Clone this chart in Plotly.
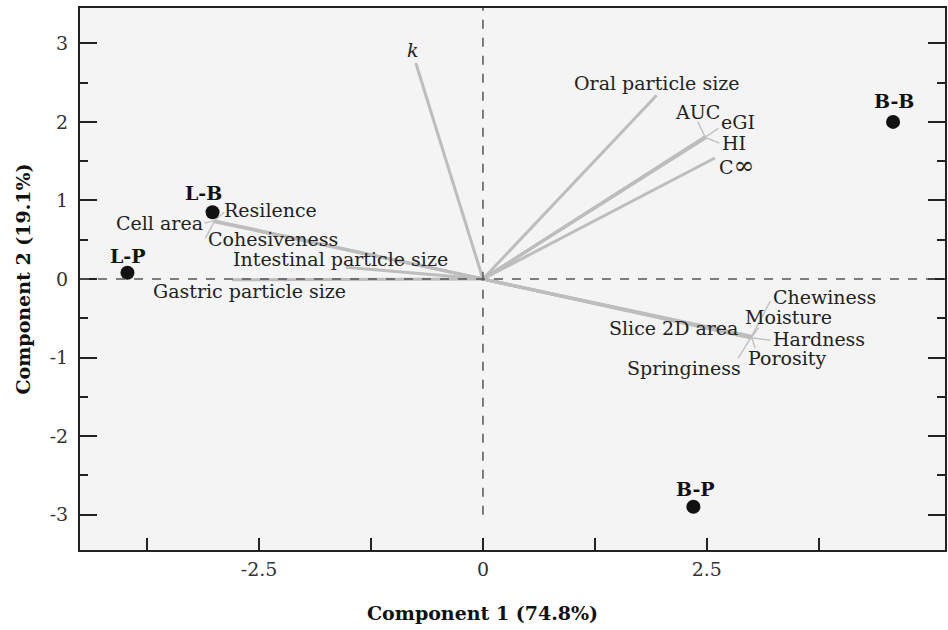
import plotly.graph_objects as go

# ---- sample scores ----
samples = ["L-P", "L-B", "B-B", "B-P"]
score_pc1 = [-3.97, -3.02, 4.58, 2.35]
score_pc2 = [0.08, 0.85, 2.00, -2.90]
sample_label_x = [-3.96, -3.12, 4.59, 2.37]
sample_label_y = [0.29, 1.10, 2.27, -2.67]

# ---- variable loadings ----
variables = ["<i>k</i>", "Oral particle size", "AUC", "eGI", "HI",
             "C<span style='font-size:25px'>∞</span>",
             "Cell area", "Resilence", "Cohesiveness",
             "Intestinal particle size", "Gastric particle size",
             "Slice 2D area", "Chewiness", "Moisture", "Hardness",
             "Porosity", "Springiness"]
loading_pc1 = [-0.75, 1.94, 2.48, 2.49, 2.49, 2.59,
               -3.01, -3.00, -3.00, -1.53, -2.80,
               3.00, 3.00, 3.00, 3.00, 3.00, 2.99]
loading_pc2 = [2.75, 2.34, 1.81, 1.81, 1.80, 1.54,
               0.74, 0.74, 0.73, 0.15, -0.01,
               -0.74, -0.73, -0.74, -0.75, -0.74, -0.75]
# repelled label positions (data units)
label_x = [-0.78, 1.94, 2.40, 2.85, 2.80, 2.83,
           -3.61, -2.37, -2.35, -1.59, -2.61,
           2.13, 3.81, 3.41, 3.75, 3.39, 2.25]
label_y = [2.91, 2.50, 2.13, 2.00, 1.73, 1.45,
           0.71, 0.88, 0.51, 0.25, -0.15,
           -0.62, -0.23, -0.48, -0.76, -1.01, -1.13]
# connector segment ends (None = no connector)
link_x = [None, None, 2.40, 2.63, 2.64, None,
          -3.11, -2.89, -3.10, None, None,
          None, 3.21, 3.08, 3.21, 3.04, 2.85]
link_y = [None, None, 2.00, 1.92, 1.73, None,
          0.71, 0.85, 0.52, None, None,
          None, -0.28, -0.62, -0.78, -0.88, -1.01]

x_tick_vals = [-2.5, 0, 2.5]
x_tick_text = ["-2.5", "0", "2.5"]
x_minor_vals = [-3.75, -1.25, 1.25, 3.75]
y_tick_vals = [-3, -2, -1, 0, 1, 2, 3]
y_tick_text = ["-3", "-2", "-1", "0", "1", "2", "3"]
y_minor_vals = [-2.5, -1.5, -0.5, 0.5, 1.5, 2.5]

FONT = "DejaVu Serif"
VEC = "#bdbdbd"

fig = go.Figure()

# loading vectors
vx, vy = [], []
for lx, ly in zip(loading_pc1, loading_pc2):
    vx += [0, lx, None]
    vy += [0, ly, None]
fig.add_trace(go.Scatter(x=vx, y=vy, mode="lines",
                         line=dict(color=VEC, width=3), hoverinfo="skip",
                         showlegend=False))

# connector segments
cx, cy = [], []
for lx, ly, sx, sy in zip(loading_pc1, loading_pc2, link_x, link_y):
    if sx is not None:
        cx += [lx, sx, None]
        cy += [ly, sy, None]
fig.add_trace(go.Scatter(x=cx, y=cy, mode="lines",
                         line=dict(color=VEC, width=1.3), hoverinfo="skip",
                         showlegend=False))

# sample points
fig.add_trace(go.Scatter(x=score_pc1, y=score_pc2, mode="markers",
                         marker=dict(color="#111111", size=14),
                         showlegend=False))

annotations = []
for name, x, y in zip(variables, label_x, label_y):
    annotations.append(dict(x=x, y=y, xref="x", yref="y", text=name,
                            showarrow=False, xanchor="center", yanchor="middle",
                            font=dict(family=FONT, size=19, color="#222222")))
for name, x, y in zip(samples, sample_label_x, sample_label_y):
    annotations.append(dict(x=x, y=y, xref="x", yref="y", text="<b>" + name + "</b>",
                            showarrow=False, xanchor="center", yanchor="middle",
                            font=dict(family=FONT, size=19, color="#111111")))
# x-axis title (centred under the origin, as in the original)
annotations.append(dict(x=0, y=-0.116, xref="x", yref="paper",
                        text="<b>Component 1 (74.8%)</b>", showarrow=False,
                        xanchor="center", yanchor="middle",
                        font=dict(family=FONT, size=19, color="#111111")))

shapes = [
    dict(type="line", xref="paper", yref="y", x0=0, x1=1, y0=0, y1=0,
         line=dict(color="#555555", width=1.5, dash="dash"), layer="above"),
    dict(type="line", xref="x", yref="y", x0=0, x1=0, y0=-3, y1=3.45,
         line=dict(color="#555555", width=1.5, dash="dash"), layer="above"),
]

fig.update_layout(
    width=948, height=630,
    margin=dict(l=80, r=1, t=8, b=80),
    paper_bgcolor="white", plot_bgcolor="#f4f4f4",
    font=dict(family=FONT, size=19, color="#333333"),
    annotations=annotations, shapes=shapes,
    xaxis=dict(range=[-4.5, 5.16], tickmode="array", tickvals=x_tick_vals,
               ticktext=x_tick_text, ticks="inside", ticklen=12, tickwidth=2,
               tickcolor="#222222",
               minor=dict(tickmode="array", tickvals=x_minor_vals, ticks="inside",
                          ticklen=12, tickwidth=2, tickcolor="#222222"),
               showline=True, linewidth=2, linecolor="#222222", mirror=True,
               showgrid=False, zeroline=False, ticklabelstandoff=1),
    yaxis=dict(range=[-3.45, 3.45], tickmode="array", tickvals=y_tick_vals,
               ticktext=y_tick_text, ticks="inside", ticklen=17, tickwidth=2,
               tickcolor="#222222",
               minor=dict(tickmode="array", tickvals=y_minor_vals, ticks="inside",
                          ticklen=8, tickwidth=2, tickcolor="#222222"),
               showline=True, linewidth=2, linecolor="#222222", mirror="ticks",
               showgrid=False, zeroline=False, ticklabelstandoff=6,
               title=dict(text="<b>Component 2 (19.1%)</b>", standoff=14,
                          font=dict(family=FONT, size=19, color="#111111"))),
)

fig.write_html("out.html")
